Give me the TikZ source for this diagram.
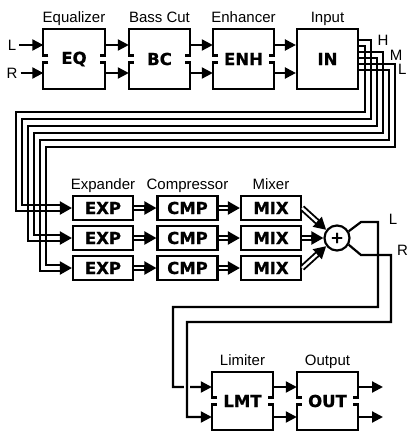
\documentclass[tikz,border=0pt]{standalone}
\usepackage{fontspec}
\setmainfont{Liberation Sans}
\newfontfamily\heavyfont[BoldFeatures={FakeBold=0.8}]{DejaVu Sans}
\usetikzlibrary{arrows.meta,calc}
\tikzset{
  wire/.style={line width=2.2pt},
  arr/.style={line width=2.2pt,-{Triangle[length=11pt,width=11pt]}},
  tipend/.style={line width=2.2pt,-{Triangle[length=12pt,width=13pt]}},
  dshaft/.style={line width=1.9pt,double=white,double distance=2.4pt},
  lbl/.style={font=\fontsize{15}{15}\selectfont,inner sep=0pt},
  tag/.style={font=\heavyfont\bfseries\fontsize{16.5}{16.5}\selectfont,inner sep=0pt},
  tallbox/.style={tag,minimum width=61pt,minimum height=60pt},
  rowbox/.style={tag,draw,line width=2.2pt,minimum width=60pt,minimum height=24pt},
}
\newcommand\splitbox[1]{%
  \draw[wire] ($(#1.west)+(5,-3.5)$) -- ($(#1.west)+(0,-3.5)$) -- (#1.north west) -- (#1.north east) -- ($(#1.east)+(0,-3.5)$) -- ($(#1.east)+(-5,-3.5)$);
  \draw[wire] ($(#1.west)+(5,3.5)$) -- ($(#1.west)+(0,3.5)$) -- (#1.south west) -- (#1.south east) -- ($(#1.east)+(0,3.5)$) -- ($(#1.east)+(-5,3.5)$);}
\newcommand\dblarr[2]{%
  \draw[dshaft] (#1) -- ($(#2)!10pt!(#1)$);
  \draw[tipend] ($(#2)!12pt!(#1)$) -- (#2);}
\begin{document}
\begin{tikzpicture}[x=1pt,y=-1pt]
\useasboundingbox (0,0) rectangle (407,431);
\fill[white] (0,0) rectangle (407,431);
\clip (0,0) rectangle (407,431);

% ---- top row
\node[lbl,anchor=base] (tEQ) at (74,23) {Equalizer};
\node[lbl,anchor=base] (tBC) at (159.5,23) {Bass Cut};
\node[lbl,anchor=base] (tENH) at (243.5,23) {Enhancer};
\node[lbl,anchor=base] (tIN) at (327.5,23) {Input};
\node[tallbox] (eq) at (74,59) {EQ};
\node[tallbox] (bc) at (159.5,59) {BC};
\node[tallbox] (enh) at (243.5,59) {ENH};
\node[tallbox,draw,line width=2.2pt] (inb) at (327.5,59) {IN};
\splitbox{eq}\splitbox{bc}\splitbox{enh}
\node[lbl] (Lin) at (12,45) {L};
\node[lbl] (Rin) at (12,73) {R};
\draw[arr,shorten <=3pt] (Lin.east) -- ([yshift=14pt]eq.west);
\draw[arr,shorten <=3pt] (Rin.east) -- ([yshift=-14pt]eq.west);
\foreach \a/\b in {eq/bc,bc/enh,enh/inb}{
  \draw[arr] ([yshift=14pt]\a.east) -- ([yshift=14pt]\b.west);
  \draw[arr] ([yshift=-14pt]\a.east) -- ([yshift=-14pt]\b.west);}
\node[lbl] (hH) at (383,40) {H};
\node[lbl] (hM) at (396,55) {M};
\node[lbl,anchor=west] (hL) at (398,69) {L};

% ---- middle rows
\node[lbl,anchor=base] (tEXP) at (103,189) {Expander};
\node[lbl,anchor=base] (tCMP) at (187.5,189) {Compressor};
\node[lbl,anchor=base] (tMIX) at (271,189) {Mixer};
\foreach \i/\y in {1/208,2/238,3/268}{
  \node[rowbox] (exp\i) at (103,\y) {EXP};
  \node[rowbox] (cmp\i) at (187.5,\y) {CMP};
  \node[rowbox] (mix\i) at (271,\y) {MIX};
  \dblarr{exp\i.east}{cmp\i.west}
  \dblarr{cmp\i.east}{mix\i.west}
  \draw[tipend] ($(exp\i.west)+(-12,0)$) -- (exp\i.west);
}
% bundles from Input to the expanders
\foreach \ys/\xr/\yb/\xl/\yf/\r/\d in {13/365/112/16/211/1/3, 19/371/119/22/205/1/-3, 1/377/126/28/241/2/3, 7/383/133/34/235/2/-3, -11/389/140/40/271/3/3, -5/395/147/46/265/3/-3}{
  \draw[wire] ([yshift=\ys pt]inb.east) -| (\xr,\yb) -| (\xl,\yf) -- ($(exp\r.west)+(-9,\d)$);
}

% ---- summing point
\node[circle,draw,line width=2.2pt,minimum size=25pt,inner sep=0pt,font=\heavyfont\bfseries\fontsize{16}{16}\selectfont] (sum) at (337,238) {+};
\dblarr{mix1.east}{sum.143}
\dblarr{mix2.east}{sum.west}
\dblarr{mix3.east}{sum.217}
\node[lbl] (oL) at (393,219) {L};
\node[lbl,anchor=west] (oR) at (397,250) {R};

% ---- bottom row
\node[lbl,anchor=base] (tLMT) at (242.5,365) {Limiter};
\node[lbl,anchor=base] (tOUT) at (327.5,365) {Output};
\node[tallbox,minimum height=58pt] (lmt) at (242.5,401) {LMT};
\node[tallbox,minimum height=58pt] (outb) at (327.5,401) {OUT};
\splitbox{lmt}\splitbox{outb}
\draw[arr] ([yshift=14pt]lmt.east) -- ([yshift=14pt]outb.west);
\draw[arr] ([yshift=-16pt]lmt.east) -- ([yshift=-16pt]outb.west);
\coordinate (o1) at (383,387);
\coordinate (o2) at (383,417);
\draw[arr] ([yshift=14pt]outb.east) -- (o1);
\draw[arr] ([yshift=-16pt]outb.east) -- (o2);

\draw[arr] (sum.30) -- (361,222) -- (378,222) -- (378,307) -- (173,307) -- (173,387) -- ([yshift=14pt]lmt.west);
\draw[white,line width=6pt] (187,380) -- (187,394);
\draw[arr] (sum.-30) -- (361,255) -- (391,255) -- (391,322) -- (187,322) -- (187,417) -- ([yshift=-16pt]lmt.west);
\end{tikzpicture}
\end{document}
